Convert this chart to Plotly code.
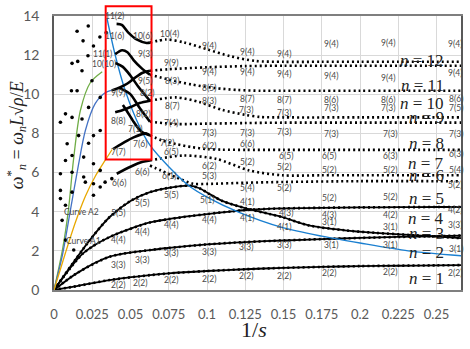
import plotly.graph_objects as go

# ---------------- data ----------------
# fitted curves (solid black), n = 1..5 family
c22_x = [0, 0.015, 0.0364, 0.0627, 0.075, 0.1, 0.125, 0.15, 0.175, 0.2, 0.225, 0.25, 0.266]
c22_y = [0, 0.2, 0.51, 0.76, 0.85, 0.97, 1.06, 1.13, 1.18, 1.22, 1.24, 1.26, 1.27]
c33_x = [0, 0.0148, 0.0364, 0.0627, 0.075, 0.1, 0.125, 0.15, 0.175, 0.2, 0.225, 0.25, 0.266]
c33_y = [0, 0.85, 1.7, 2.04, 2.15, 2.33, 2.45, 2.53, 2.6, 2.66, 2.71, 2.75, 2.78]
c44_x = [0, 0.019, 0.0364, 0.0627, 0.075, 0.0886, 0.1, 0.1166, 0.1276, 0.15, 0.175, 0.2, 0.225, 0.25, 0.266]
c44_y = [0, 1.87, 2.71, 3.45, 3.62, 3.77, 3.88, 4.02, 4.1, 4.17, 4.2, 4.22, 4.23, 4.24, 4.24]
c55_x = [0, 0.0234, 0.0364, 0.05, 0.0627, 0.075, 0.0886, 0.095, 0.1017, 0.11, 0.1255, 0.14, 0.149, 0.1666, 0.19, 0.21, 0.235, 0.266]
c55_y = [0, 2.55, 3.73, 4.55, 5.0, 5.22, 5.33, 5.2, 4.9, 4.55, 4.17, 3.9, 3.73, 3.3, 3.05, 2.92, 2.8, 2.65]
c66_x = [0.041, 0.05, 0.058, 0.0627]
c66_y = [5.94, 6.3, 6.55, 6.62]

# veering branches inside the highlighted window
t1_x = [0.0409, 0.0443, 0.0486, 0.054, 0.0605, 0.0627]
t1_y = [13.6, 13.55, 13.15, 12.8, 12.62, 12.64]
t2_x = [0.040, 0.0445, 0.048, 0.052, 0.057, 0.0627]
t2_y = [12.05, 12.25, 12.15, 11.75, 11.35, 11.0]
t3_x = [0.0378, 0.043, 0.048, 0.053, 0.058, 0.0627]
t3_y = [10.2, 10.35, 10.55, 10.85, 11.1, 11.2]
t4_x = [0.040, 0.045, 0.05, 0.055, 0.0627]
t4_y = [11.6, 11.4, 10.95, 10.4, 9.67]
t5_x = [0.040, 0.045, 0.05, 0.056, 0.0627]
t5_y = [9.08, 9.2, 9.35, 9.55, 9.67]
t6_x = [0.043, 0.0497, 0.056, 0.0627]
t6_y = [10.3, 10.02, 9.3, 8.6]
t7_x = [0.045, 0.0475, 0.052, 0.057, 0.0627]
t7_y = [9.45, 9.16, 8.6, 8.1, 7.9]
t8_x = [0.0386, 0.045, 0.052, 0.0605, 0.0627]
t8_y = [7.2, 7.5, 7.8, 8.0, 7.9]

# sampled branches (dotted), higher modes
rA_x = [0.0627, 0.0735, 0.085, 0.1, 0.115, 0.1318, 0.15, 0.175, 0.2, 0.225, 0.25, 0.266]
rA_y = [12.64, 12.8, 12.65, 12.3, 11.95, 11.7, 11.66, 11.66, 11.66, 11.66, 11.66, 11.66]
rB_x = [0.0627, 0.075, 0.1, 0.125, 0.15, 0.175, 0.2, 0.225, 0.25, 0.266]
rB_y = [11.2, 11.28, 11.38, 11.44, 11.46, 11.46, 11.46, 11.46, 11.46, 11.46]
rC_x = [0.0627, 0.075, 0.09, 0.105, 0.12, 0.135, 0.15, 0.175, 0.2, 0.225, 0.25, 0.266]
rC_y = [11.0, 10.75, 10.5, 10.32, 10.22, 10.18, 10.18, 10.18, 10.18, 10.18, 10.18, 10.18]
rD_x = [0.0627, 0.08, 0.095, 0.11, 0.125, 0.135, 0.15, 0.2, 0.25, 0.266]
rD_y = [9.67, 9.84, 9.6, 9.2, 8.95, 8.84, 8.82, 8.82, 8.82, 8.82]
rE_x = [0.0627, 0.08, 0.1, 0.125, 0.15, 0.2, 0.25, 0.266]
rE_y = [8.6, 8.48, 8.5, 8.53, 8.55, 8.55, 8.55, 8.55]
rF_x = [0.0627, 0.0706, 0.08, 0.09, 0.1, 0.11, 0.125, 0.15, 0.2, 0.25, 0.266]
rF_y = [7.9, 7.64, 7.45, 7.3, 7.2, 7.17, 7.16, 7.16, 7.16, 7.16, 7.16]
rG_x = [0.0627, 0.0843, 0.106, 0.1276, 0.149, 0.175, 0.2, 0.25, 0.266]
rG_y = [6.62, 6.87, 6.7, 6.11, 5.86, 5.86, 5.86, 5.86, 5.86]
rH_x = [0.0627, 0.07, 0.08, 0.0908, 0.1, 0.125, 0.15, 0.2, 0.25, 0.266]
rH_y = [6.36, 6.1, 5.75, 5.43, 5.42, 5.48, 5.52, 5.56, 5.56, 5.56]

# low 1/s sample points
pts_x = [0.0151, 0.0224, 0.0190, 0.0258, 0.0300, 0.0341,
         0.0118, 0.0155, 0.0183, 0.0222,
         0.0114, 0.0151, 0.0248,
         0.0075, 0.0118, 0.0183, 0.0226, 0.0302,
         0.0042, 0.0161, 0.0258, 0.0302,
         0.0086, 0.0226, 0.0118, 0.0194, 0.0075,
         0.0042, 0.0118, 0.0194, 0.0258, 0.0302,
         0.0205, 0.0258, 0.0302, 0.0334, 0.0378,
         0.0042, 0.0118, 0.0042, 0.0075, 0.0258,
         0.0053, 0.0075, 0.0129]
pts_y = [13.22, 13.49, 12.73, 12.47, 12.93, 13.15,
         11.58, 11.68, 11.20, 11.97,
         10.18, 10.18, 10.69,
         9.00, 8.82, 8.74, 9.33, 9.84,
         8.57, 7.89, 7.89, 8.15,
         7.47, 7.5, 6.87, 6.79, 6.62,
         5.94, 6.02, 5.77, 6.45, 6.11,
         5.51, 5.43, 5.26, 5.51, 5.69,
         5.09, 5.0, 4.67, 4.33, 4.84,
         3.56, 2.55, 2.04]

# coloured bound curves
green_x = [0, 0.0055, 0.0094, 0.0127, 0.0172, 0.0237, 0.0315]
green_y = [0, 2.04, 4.07, 6.62, 9.16, 10.59, 11.15]
navy_x = [0, 0.0055, 0.0107, 0.0159, 0.0205, 0.0269, 0.0334, 0.0386]
navy_y = [0, 1.78, 4.07, 6.36, 8.15, 9.52, 10.08, 10.23]
gold_x = [0, 0.0075, 0.014, 0.0205, 0.0269, 0.0334, 0.038]
gold_y = [0, 1.9, 3.46, 4.79, 5.8, 6.62, 7.18]
blue_x = [0.0347, 0.04, 0.0465, 0.0562, 0.0627, 0.075, 0.0886, 0.1, 0.121, 0.149, 0.175, 0.2, 0.2315, 0.266]
blue_y = [13.85, 12.0, 10.2, 8.3, 7.4, 6.3, 5.3, 4.75, 3.97, 3.2, 2.75, 2.4, 2.0, 1.75]

x_ticks = [0, 0.025, 0.05, 0.075, 0.1, 0.125, 0.15, 0.175, 0.2, 0.225, 0.25]
x_tick_text = ["0", "0.025", "0.05", "0.075", "0.1", "0.125", "0.15", "0.175", "0.2", "0.225", "0.25"]
y_ticks = [0, 2, 4, 6, 8, 10, 12, 14]

# mode labels: (text, 1/s, omega)
mode_labels = [
    ("11(2)", 0.0397, 14.0), ("11(6)", 0.0397, 12.98), ("10(6)", 0.0579, 12.98),
    ("11(1)", 0.0319, 12.07), ("9(3)", 0.0592, 12.07), ("10(10)", 0.0325, 11.56),
    ("9(5)", 0.0592, 10.69), ("9(9)", 0.0416, 10.08), ("8(2)", 0.0611, 10.08),
    ("8(2)", 0.0579, 9.01), ("8(8)", 0.0416, 8.65), ("7(1)", 0.0527, 8.25),
    ("7(6)", 0.0559, 7.48), ("7(7)", 0.0416, 7.03), ("6(6)", 0.0423, 5.45),
    ("5(5)", 0.0416, 3.92), ("4(4)", 0.0416, 2.55), ("3(3)", 0.0416, 1.27),
    ("2(2)", 0.0416, 0.25), ("6(6)", 0.0572, 6.01), ("5(5)", 0.0572, 4.43),
    ("4(4)", 0.0572, 2.95), ("3(3)", 0.0572, 1.53), ("2(2)", 0.0559, 0.36),
    ("10(4)", 0.0754, 13.08), ("9(4)", 0.1015, 12.47), ("9(4)", 0.1262, 12.17),
    ("9(4)", 0.1502, 12.07), ("9(9)", 0.0767, 11.61), ("9(4)", 0.1015, 11.15),
    ("9(4)", 0.1262, 11.15), ("9(4)", 0.1502, 11.05), ("8(3)", 0.0774, 10.69),
    ("8(5)", 0.1015, 10.33), ("8(3)", 0.1015, 9.67), ("8(7)", 0.1262, 9.77),
    ("8(7)", 0.1502, 9.72), ("8(7)", 0.0774, 9.42), ("7(3)", 0.1255, 9.21),
    ("7(3)", 0.1502, 9.06),
    ("9(4)", 0.1808, 12.57), ("9(4)", 0.2185, 12.63), ("9(4)", 0.2621, 12.57),
    ("9(4)", 0.1808, 10.95), ("9(4)", 0.2185, 10.84), ("9(4)", 0.2621, 11.1),
    ("8(6)", 0.1808, 9.72), ("8(6)", 0.2185, 9.72), ("8(6)", 0.2627, 9.77),
    ("7(3)", 0.1808, 9.32), ("7(3)", 0.2185, 9.32), ("7(5)", 0.2627, 9.32),
    ("7(4)", 0.0767, 8.55), ("7(3)", 0.1015, 8.04), ("7(3)", 0.1262, 8.04),
    ("7(3)", 0.1502, 8.09), ("7(2)", 0.0741, 7.53), ("6(5)", 0.0767, 7.03),
    ("6(2)", 0.1015, 7.38), ("6(6)", 0.1262, 7.48), ("6(5)", 0.1515, 6.87),
    ("6(2)", 0.1015, 6.36), ("5(2)", 0.1262, 6.52), ("5(2)", 0.1502, 6.26),
    ("6(1)", 0.0754, 5.85), ("5(3)", 0.1015, 5.85), ("5(4)", 0.1262, 5.19),
    ("5(2)", 0.1502, 5.19), ("5(5)", 0.0767, 4.84), ("5(1)", 0.1002, 4.58),
    ("4(1)", 0.1262, 4.48), ("4(3)", 0.1515, 3.92), ("4(1)", 0.1262, 3.67),
    ("4(4)", 0.0767, 3.31), ("4(4)", 0.1015, 3.56), ("4(1)", 0.1502, 3.21),
    ("7(3)", 0.1808, 7.99), ("7(3)", 0.2198, 7.99), ("7(3)", 0.2627, 7.99),
    ("6(5)", 0.1795, 6.87), ("6(3)", 0.2198, 6.87), ("6(3)", 0.2627, 6.97),
    ("5(2)", 0.1795, 6.11), ("5(2)", 0.2198, 6.11), ("5(4)", 0.2627, 6.11),
    ("5(2)", 0.1795, 4.68), ("5(2)", 0.2198, 4.73), ("5(2)", 0.2621, 5.35),
    ("4(3)", 0.1795, 3.82), ("3(1)", 0.1795, 3.46), ("4(2)", 0.2198, 3.82),
    ("4(2)", 0.2621, 4.07), ("3(1)", 0.2198, 3.21),
    ("3(3)", 0.0767, 1.88), ("3(3)", 0.1015, 1.93), ("3(3)", 0.1255, 2.19),
    ("3(3)", 0.1502, 2.29), ("2(2)", 0.0767, 0.51), ("2(2)", 0.1015, 0.56),
    ("2(2)", 0.1255, 0.71), ("2(2)", 0.1502, 0.71), ("3(1)", 0.1808, 2.29),
    ("3(1)", 0.2198, 2.29), ("3(1)", 0.2627, 2.09), ("3(3)", 0.2621, 3.31),
    ("2(2)", 0.1795, 0.87), ("2(2)", 0.2198, 0.92), ("2(2)", 0.2621, 0.87),
]
curve_names = [("Curve A2", 0.0182, 3.97), ("Curve A1", 0.0195, 2.49)]

# family labels n = 1..12 (value of omega where each is written)
n_values = [12, 11, 10, 9, 8, 7, 6, 5, 4, 3, 2, 1]
n_label_y = [11.71, 10.44, 9.52, 8.81, 7.48, 6.47, 5.85, 4.68, 3.67, 2.9, 1.93, 0.61]

# ---------------- figure ----------------
fig = go.Figure()

def solid(x, y, color="black", width=2.0):
    fig.add_trace(go.Scatter(x=x, y=y, mode="lines", hoverinfo="skip",
                             line=dict(color=color, width=width, shape="spline", smoothing=0.8)))

def dotted(x, y):
    fig.add_trace(go.Scatter(x=x, y=y, mode="lines", hoverinfo="skip",
                             line=dict(color="black", width=2.6, dash="2px,3px",
                                       shape="spline", smoothing=0.8)))

for xs, ys in [(c22_x, c22_y), (c33_x, c33_y), (c44_x, c44_y), (c55_x, c55_y)]:
    solid(xs, ys, width=1.8)
    dotted(xs, ys)
solid(c66_x, c66_y, width=2.6)

for xs, ys in [(rA_x, rA_y), (rB_x, rB_y), (rC_x, rC_y), (rD_x, rD_y),
               (rE_x, rE_y), (rF_x, rF_y), (rG_x, rG_y), (rH_x, rH_y)]:
    dotted(xs, ys)

solid(green_x, green_y, "#70ad47", 1.3)
solid(navy_x, navy_y, "#4472c4", 1.3)
solid(gold_x, gold_y, "#e8a800", 1.3)
solid(blue_x, blue_y, "#1a7fd0", 1.4)

for xs, ys in [(t1_x, t1_y), (t2_x, t2_y), (t3_x, t3_y), (t4_x, t4_y),
               (t5_x, t5_y), (t6_x, t6_y), (t7_x, t7_y), (t8_x, t8_y)]:
    solid(xs, ys, width=2.6)

fig.add_trace(go.Scatter(x=pts_x, y=pts_y, mode="markers", hoverinfo="skip",
                         marker=dict(color="black", size=3.6)))

small_font = dict(family="Lato, Open Sans, sans-serif", size=8.5, color="#4a4a4a")
ann = []
for txt, xv, yv in mode_labels + curve_names:
    ann.append(dict(x=xv, y=yv, text=txt, showarrow=False, xref="x", yref="y",
                    xanchor="center", yanchor="middle", font=small_font))
for nv, yv in zip(n_values, n_label_y):
    ann.append(dict(x=0.2562, y=yv, text=f"<i>n</i> = {nv}", showarrow=False,
                    xref="x", yref="y", xanchor="right", yanchor="middle",
                    font=dict(family="Liberation Serif, serif", size=17, color="#222222")))

ann.append(dict(x=-0.093, y=0.565, xref="paper", yref="paper", showarrow=False, textangle=-90,
                xanchor="center", yanchor="middle",
                text="<i>ω</i><sup>*</sup><sub><i>n</i></sub> = <i>ω</i><sub><i>n</i></sub><i>L</i>√<i>ρ</i>/<i>E</i>",
                font=dict(family="Liberation Serif, serif", size=18, color="#222222")))
ann.append(dict(x=0.491, y=-0.145, xref="paper", yref="paper", showarrow=False,
                xanchor="center", yanchor="middle",
                text="1/<i>s</i>",
                font=dict(family="Liberation Serif, serif", size=22, color="#222222")))

fig.update_layout(
    width=470, height=349,
    margin=dict(l=54, r=7, t=15, b=59),
    paper_bgcolor="white", plot_bgcolor="white",
    showlegend=False,
    annotations=ann,
    shapes=[dict(type="rect", xref="paper", yref="paper",
                 x0=0.127, x1=0.2396, y0=0.476, y1=1.036,
                 line=dict(color="#ff0000", width=2))],
    xaxis=dict(range=[0, 0.266], tickvals=x_ticks, ticktext=x_tick_text,
               showgrid=True, gridcolor="#d9d9d9", gridwidth=1, zeroline=False,
               showline=True, linecolor="#7f7f7f", linewidth=1.5, mirror=True,
               ticks="", ticklabelstandoff=12,
               tickfont=dict(family="Lato, Open Sans, sans-serif", size=13, color="#595959")),
    yaxis=dict(range=[0, 14], tickvals=y_ticks,
               showgrid=True, gridcolor="#d9d9d9", gridwidth=1, zeroline=False,
               showline=True, linecolor="#595959", linewidth=1.5, mirror=True,
               ticks="", ticklabelstandoff=10,
               tickfont=dict(family="Lato, Open Sans, sans-serif", size=14, color="#595959")),
)

fig.write_html("out.html")
